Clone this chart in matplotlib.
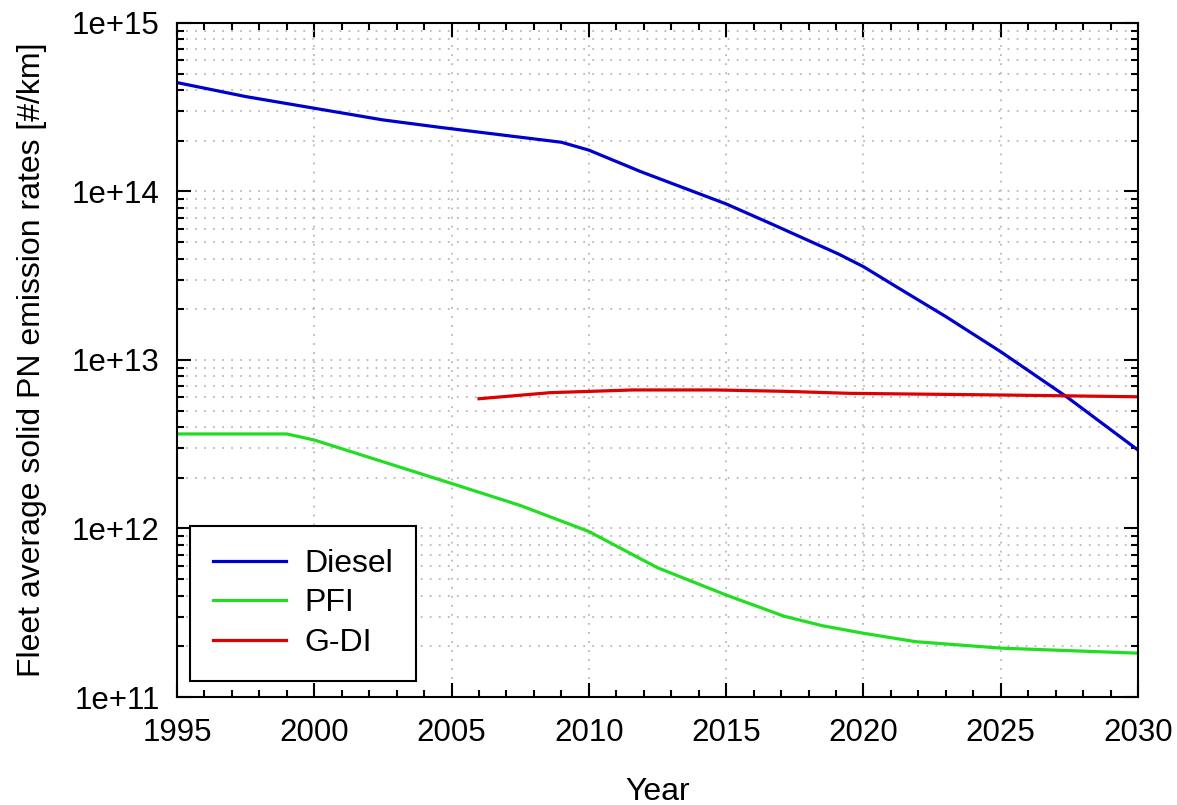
import matplotlib.pyplot as plt
import numpy as np

plt.rcParams['font.family'] = ['Liberation Sans', 'DejaVu Sans']

# Diesel fleet average
years_d = [1995, 1997.5, 2000, 2002.5, 2004.6, 2009, 2010, 2011.9, 2015, 2016.7,
           2019.1, 2020, 2021.2, 2023, 2025, 2027.4, 2030]
diesel = [4.43e14, 3.66e14, 3.12e14, 2.66e14, 2.40e14, 1.96e14, 1.76e14, 1.31e14, 8.44e13, 6.37e13,
          4.25e13, 3.58e13, 2.72e13, 1.81e13, 1.12e13, 6.05e12, 2.92e12]
# PFI
years_p = [1995, 1999, 2000, 2002.5, 2005, 2007.5, 2010, 2012.5, 2015, 2017.1,
           2018.5, 2020, 2021.9, 2025, 2030]
pfi = [3.64e12, 3.64e12, 3.35e12, 2.49e12, 1.85e12, 1.37e12, 9.6e11, 5.85e11, 4.03e11, 3.02e11,
       2.65e11, 2.39e11, 2.13e11, 1.95e11, 1.82e11]
# G-DI
years_g = [2006, 2008.6, 2011.6, 2014.6, 2017.1, 2019.5, 2025, 2030]
gdi = [5.89e12, 6.40e12, 6.64e12, 6.64e12, 6.52e12, 6.34e12, 6.2e12, 6.05e12]

fig = plt.figure(figsize=(11.77, 8.05), dpi=100)
ax = fig.add_axes([177 / 1177, 108 / 805, 961 / 1177, 674 / 805])

ax.plot(years_d, diesel, color='#0000cc', lw=2.3, label='Diesel')
ax.plot(years_p, pfi, color='#22dd22', lw=2.3, label='PFI')
ax.plot(years_g, gdi, color='#dd0000', lw=2.3, label='G-DI')

ax.set_yscale('log')
ax.set_xlim(1995, 2030)
ax.set_ylim(1e11, 1e15)
ax.set_xticks(np.arange(1995, 2031, 5))
ax.set_xticks(np.arange(1995, 2031, 1), minor=True)
ax.set_yticks([1e11, 1e12, 1e13, 1e14, 1e15])
ax.set_yticklabels(['1e+11', '1e+12', '1e+13', '1e+14', '1e+15'])

# dotted grid: vertical at major years only, horizontal at all log ticks
ax.grid(True, which='major', color='#b8b8b8', linestyle=(0, (1, 4)), linewidth=1.3)
ax.grid(True, which='minor', axis='y', color='#b8b8b8', linestyle=(0, (1, 4)), linewidth=1.3)
ax.tick_params(which='both', direction='in', top=True, right=True, labelsize=22.5, width=1.5)
ax.tick_params(which='major', length=10)
ax.tick_params(which='minor', length=5)
ax.tick_params(axis='x', which='major', pad=15)
ax.tick_params(axis='y', which='major', pad=12.5)
for s in ax.spines.values():
    s.set_linewidth(1.5)

ax.set_xlabel('Year', fontsize=23, labelpad=21)
ax.set_ylabel('Fleet average solid PN emission rates [#/km]', fontsize=23, labelpad=18)

leg = ax.legend(loc='lower left', fontsize=23, fancybox=False, framealpha=1,
                edgecolor='black', borderpad=0.72, handlelength=2.3, handletextpad=0.55,
                labelspacing=0.3, borderaxespad=0, bbox_to_anchor=(0.0135, 0.0237))
leg.get_frame().set_linewidth(1.5)

fig.savefig('out.png', dpi=100)
